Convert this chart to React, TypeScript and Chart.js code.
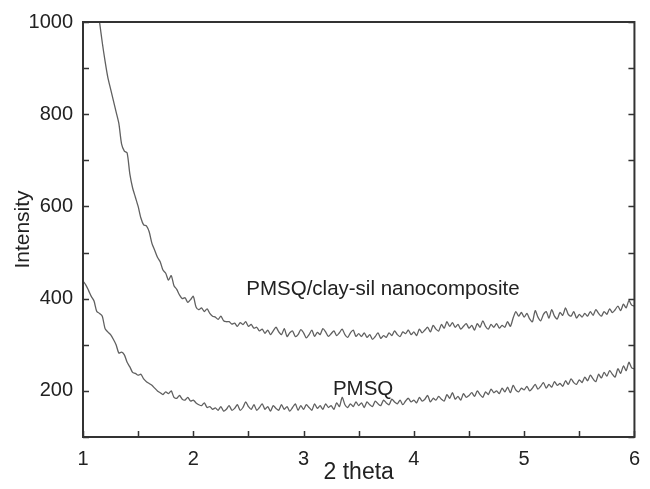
import React, { useEffect, useRef } from 'react';
import { Chart, registerables } from 'chart.js';

Chart.register(...registerables);

// 2-theta sampling grid: starts at 1.0, one reading every 0.025
const X_START = 1;
const X_STEP = 0.025;

// PMSQ/clay-sil nanocomposite intensity (null = above the plotted range)
const nanocomposite: (number | null)[] = [
  null, null, null, null, null, null, 1000, 955, 915, 880,
  855, 830, 805, 780, 735, 720, 716, 670, 640, 620,
  600, 575, 560, 558, 545, 520, 505, 490, 480, 462,
  455, 440, 450, 428, 420, 408, 400, 402, 392, 398,
  405, 382, 376, 380, 372, 378, 368, 362, 360, 355,
  362, 352, 350, 350, 345, 347, 340, 348, 344, 350,
  340, 344, 336, 338, 330, 334, 325, 332, 322, 330,
  338, 328, 322, 335, 318, 326, 330, 318, 322, 333,
  326, 315, 322, 332, 318, 327, 322, 335, 328, 318,
  324, 330, 320, 326, 334, 322, 316, 326, 332, 318,
  324, 318, 326, 316, 322, 312, 318, 326, 314, 320,
  316, 326, 320, 330, 322, 318, 328, 324, 332, 322,
  328, 320, 334, 326, 332, 338, 328, 342, 334, 330,
  344, 336, 350, 340, 348, 338, 344, 334, 340, 346,
  336, 342, 332, 346, 338, 352, 340, 334, 344, 338,
  346, 336, 342, 338, 350, 340, 358, 372, 362, 370,
  360, 368, 356, 350, 374, 360, 352, 366, 372, 358,
  376, 362, 356, 370, 364, 380, 366, 362, 372, 358,
  366, 360, 368, 362, 372, 364, 376, 368, 362, 372,
  366, 378, 370, 376, 384, 374, 388, 380, 396, 386,
  384,
];

// PMSQ intensity
const pmsq: number[] = [
  438, 430, 418, 405, 395, 372, 368, 362, 335, 328,
  322, 312, 300, 282, 284, 278, 262, 252, 240, 238,
  234, 236, 226, 220, 216, 212, 206, 200, 196, 192,
  198, 194, 200, 186, 184, 190, 182, 180, 186, 178,
  180, 174, 170, 168, 174, 164, 166, 160, 163, 158,
  166, 156, 160, 168, 158, 162, 170, 158, 164, 176,
  166, 160, 170, 158, 164, 172, 160, 166, 156, 168,
  162, 158, 170, 160, 166, 156, 164, 172, 158, 168,
  160, 170, 164, 158, 172, 162, 168, 160, 172, 164,
  168, 160, 174, 166, 186, 170, 164, 172, 166, 176,
  168, 174, 164, 176, 170, 166, 178, 172, 168, 180,
  174, 170, 182, 176, 172, 180, 170, 178, 184, 176,
  180, 174, 186, 178, 182, 190, 176, 184, 180, 188,
  182, 178, 192, 184, 196, 182, 188, 180, 194, 186,
  190, 196, 188, 200, 192, 186, 198, 192, 204, 196,
  200, 194, 206, 198, 208, 196, 212, 202, 198, 206,
  202, 210, 200, 206, 214, 204, 210, 218, 206, 214,
  208, 220, 212, 216, 210, 222, 214, 226, 218, 214,
  224, 218, 230, 222, 234, 226, 220, 236, 228, 240,
  232, 244, 236, 230, 248, 238, 254, 244, 262, 250,
  248,
];

const xMin = 1;
const xMax = 6;
const xTickStep = 0.5;
const yMin = 100;
const yMax = 1000;
const yTickStep = 100;
const yLabelEvery = 200;

const xTitle = '2 theta';
const yTitle = 'Intensity';

const annotations = [
  { text: 'PMSQ/clay-sil nanocomposite', x: 3.72, y: 420 },
  { text: 'PMSQ', x: 3.54, y: 204 },
];

const FONT = '"Liberation Sans", Arial, Helvetica, sans-serif';
const TEXT = '#222222';
const FRAME = '#333333';
const LINE = '#606060';

const toPoints = (arr: (number | null)[]) =>
  arr.map((v, i) => ({ x: X_START + i * X_STEP, y: v }));

const framePlugin = {
  id: 'frameTicks',
  afterDatasetsDraw(chart: any) {
    const { ctx, chartArea, scales } = chart;
    const { left, right, top, bottom } = chartArea;
    const xs = scales.x;
    const ys = scales.y;
    const tl = 6;
    ctx.save();
    ctx.strokeStyle = FRAME;
    ctx.lineWidth = 1.5;
    ctx.beginPath();
    xs.ticks.forEach((t: any) => {
      const px = Math.round(xs.getPixelForValue(t.value)) + 0.5;
      ctx.moveTo(px, bottom);
      ctx.lineTo(px, bottom - tl);
    });
    ys.ticks.forEach((t: any) => {
      const py = Math.round(ys.getPixelForValue(t.value)) + 0.5;
      ctx.moveTo(left, py);
      ctx.lineTo(left + tl, py);
      ctx.moveTo(right, py);
      ctx.lineTo(right - tl, py);
    });
    ctx.stroke();
    ctx.lineWidth = 2;
    ctx.strokeRect(left, top, right - left, bottom - top);

    ctx.fillStyle = TEXT;
    ctx.font = `20.5px ${FONT}`;
    ctx.textAlign = 'center';
    ctx.textBaseline = 'middle';
    annotations.forEach((a) => {
      ctx.fillText(a.text, xs.getPixelForValue(a.x), ys.getPixelForValue(a.y));
    });
    ctx.restore();
  },
};

export default function App() {
  const canvasRef = useRef<HTMLCanvasElement | null>(null);

  useEffect(() => {
    document.body.style.margin = '0';
    const canvas = canvasRef.current;
    if (!canvas) return;
    const chart = new Chart(canvas, {
      type: 'line',
      data: {
        datasets: [
          {
            label: 'PMSQ/clay-sil nanocomposite',
            data: toPoints(nanocomposite) as any,
            borderColor: LINE,
            borderWidth: 1.3,
            pointRadius: 0,
            tension: 0.25,
            fill: false,
          },
          {
            label: 'PMSQ',
            data: toPoints(pmsq) as any,
            borderColor: LINE,
            borderWidth: 1.3,
            pointRadius: 0,
            tension: 0.25,
            fill: false,
          },
        ],
      },
      options: {
        animation: false,
        responsive: true,
        maintainAspectRatio: false,
        layout: { padding: { top: 22, right: 11, left: 0, bottom: 0 } },
        plugins: {
          legend: { display: false },
          tooltip: { enabled: false },
        },
        scales: {
          x: {
            type: 'linear',
            min: xMin,
            max: xMax,
            grid: { display: false, drawTicks: false },
            border: { display: false },
            ticks: {
              stepSize: xTickStep,
              autoSkip: false,
              maxRotation: 0,
              padding: 10,
              color: TEXT,
              font: { family: FONT, size: 20 },
              callback: (v: any) => (Number.isInteger(v) ? String(v) : ''),
            },
            title: {
              display: true,
              text: xTitle,
              color: TEXT,
              font: { family: FONT, size: 23 },
              padding: { top: 0, bottom: 3 },
            },
            afterFit: (s: any) => {
              s.height = 52;
            },
          },
          y: {
            type: 'linear',
            min: yMin,
            max: yMax,
            grid: { display: false, drawTicks: false },
            border: { display: false },
            ticks: {
              stepSize: yTickStep,
              autoSkip: false,
              padding: 10,
              color: TEXT,
              font: { family: FONT, size: 20 },
              callback: (v: any) => (v % yLabelEvery === 0 ? String(v) : ''),
            },
            title: {
              display: true,
              text: yTitle,
              color: TEXT,
              font: { family: FONT, size: 21 },
              padding: { top: 11, bottom: 0 },
            },
            afterFit: (s: any) => {
              s.width = 83;
            },
          },
        },
      },
      plugins: [framePlugin],
    });
    return () => chart.destroy();
  }, []);

  return (
    <div style={{ width: 650, height: 489, position: 'relative' }}>
      <canvas ref={canvasRef} />
    </div>
  );
}
